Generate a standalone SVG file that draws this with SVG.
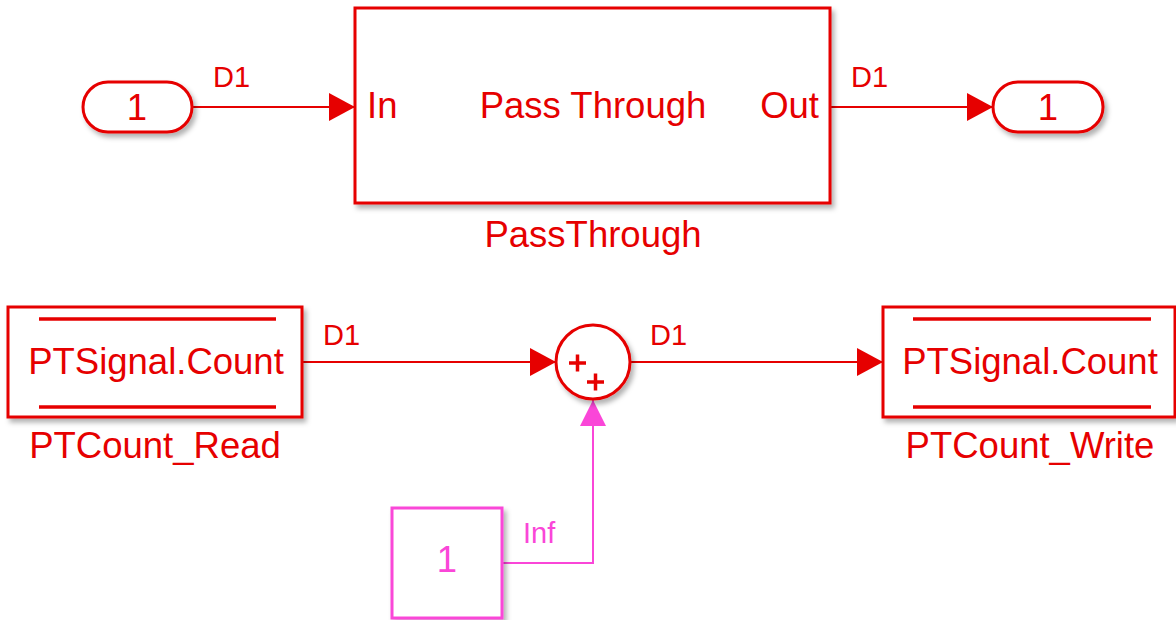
<svg xmlns="http://www.w3.org/2000/svg" width="1176" height="620" viewBox="0 0 1176 620">
<style>
text{font-family:"Liberation Sans",Arial,sans-serif;fill:#e60000}
.blk{font-size:36.5px}
.lbl{font-size:29px}
.box{fill:#fff;stroke:#e60000;stroke-width:3}
.bar{stroke:#e60000;stroke-width:3.5}
.wire{fill:none;stroke:#e60000;stroke-width:2}
.mbox{fill:#fff;stroke:#fa46d8;stroke-width:3}
.mwire{fill:none;stroke:#fa46d8;stroke-width:2}
</style>
<defs>
<filter id="sh" x="-10%" y="-10%" width="130%" height="140%">
<feDropShadow dx="3" dy="4" stdDeviation="2.5" flood-color="#000" flood-opacity="0.3"/>
</filter>
<marker id="ar" viewBox="0 0 26 28" refX="26" refY="14" markerWidth="26" markerHeight="28" markerUnits="userSpaceOnUse" orient="auto">
<path d="M0,0 L26,14 L0,28 Z" fill="#e60000"/>
</marker>
<marker id="am" viewBox="0 0 26 28" refX="26" refY="14" markerWidth="26" markerHeight="28" markerUnits="userSpaceOnUse" orient="auto">
<path d="M0,1 L26,14 L0,27 Z" fill="#fa46d8"/>
</marker>
</defs>

<g id="connectors">
<path class="wire" d="M192,107 H355" marker-end="url(#ar)"/>
<path class="wire" d="M830,107 H993" marker-end="url(#ar)"/>
<path class="wire" d="M302,362 H556" marker-end="url(#ar)"/>
<path class="wire" d="M630,362 H883" marker-end="url(#ar)"/>
<path class="mwire" d="M502,563 H593 V400" marker-end="url(#am)"/>
<text class="lbl" x="213" y="87">D1</text>
<text class="lbl" x="851" y="87">D1</text>
<text class="lbl" x="323" y="345">D1</text>
<text class="lbl" x="650" y="345">D1</text>
<text class="lbl" x="523" y="543" style="fill:#fa46d8">Inf</text>
</g>

<g id="inport1">
<rect class="box" x="83" y="82" width="109" height="50" rx="25" filter="url(#sh)"/>
<text class="blk" x="137" y="120" text-anchor="middle">1</text>
</g>

<g id="passthrough">
<rect class="box" x="355" y="8" width="475" height="195" filter="url(#sh)"/>
<text class="blk" x="367" y="118">In</text>
<text class="blk" x="593" y="118" text-anchor="middle">Pass Through</text>
<text class="blk" x="819" y="118" text-anchor="end">Out</text>
<text class="blk" x="593" y="247" text-anchor="middle">PassThrough</text>
</g>

<g id="outport1">
<rect class="box" x="993" y="82" width="110" height="50" rx="25" filter="url(#sh)"/>
<text class="blk" x="1048" y="120" text-anchor="middle">1</text>
</g>

<g id="ptcount-read">
<rect class="box" x="8" y="307" width="294" height="110" filter="url(#sh)"/>
<line class="bar" x1="39" y1="319" x2="276" y2="319"/>
<line class="bar" x1="39" y1="407" x2="276" y2="407"/>
<text class="blk" x="156" y="374" text-anchor="middle">PTSignal.Count</text>
<text class="blk" x="155" y="458" text-anchor="middle">PTCount_Read</text>
</g>

<g id="sum">
<circle class="box" cx="593" cy="362" r="37" filter="url(#sh)"/>
<path d="M569,363 H586 M577.5,354.5 V371.5 M587,382 H604 M595.5,373.5 V390.5" stroke="#e60000" stroke-width="3.5" fill="none"/>
</g>

<g id="ptcount-write">
<rect class="box" x="883" y="307" width="292" height="110" filter="url(#sh)"/>
<line class="bar" x1="913" y1="319" x2="1151" y2="319"/>
<line class="bar" x1="913" y1="407" x2="1151" y2="407"/>
<text class="blk" x="1030" y="374" text-anchor="middle">PTSignal.Count</text>
<text class="blk" x="1030" y="458" text-anchor="middle">PTCount_Write</text>
</g>

<g id="constant">
<rect class="mbox" x="392" y="508" width="110" height="110" filter="url(#sh)"/>
<text class="blk" x="447" y="572" text-anchor="middle" style="fill:#fa46d8">1</text>
</g>
</svg>
